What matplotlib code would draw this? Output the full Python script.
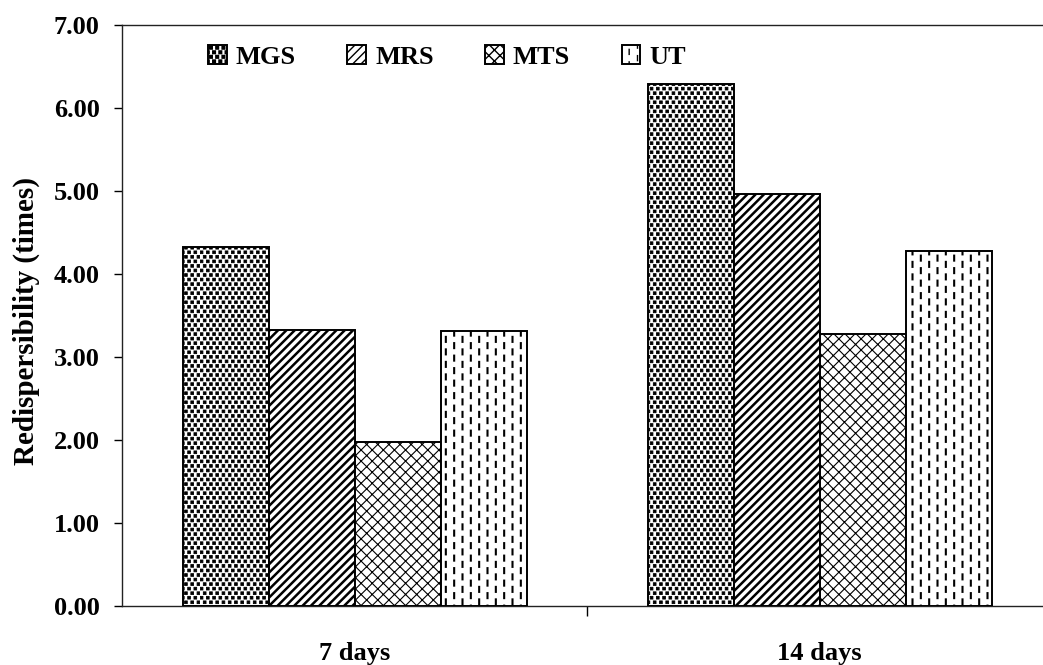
import warnings
warnings.filterwarnings('ignore')
import numpy as np
import matplotlib
matplotlib.use('Agg')
import matplotlib.pyplot as plt
from matplotlib import hatch as mhatch
from matplotlib.path import Path

# ---------------- data ----------------
categories = ['7 days', '14 days']
series_names = ['MGS', 'MRS', 'MTS', 'UT']
mgs_values = [4.33, 6.29]
mrs_values = [3.32, 4.96]
mts_values = [1.98, 3.28]
ut_values = [3.31, 4.28]
y_ticks = [0, 1, 2, 3, 4, 5, 6, 7]
y_tick_labels = ['0.00', '1.00', '2.00', '3.00', '4.00', '5.00', '6.00', '7.00']


# ---------------- custom hatch patterns ----------------
class SquareDotsHatch(mhatch.HatchPatternBase):
    """Staggered small filled squares (char 'Q')."""
    def __init__(self, hatch, density):
        centers = []
        if 'Q' in hatch:
            ncol, nrow = 16, 22
            for r in range(nrow):
                for c in range(ncol):
                    centers.append(((c + 0.25 + 0.5 * (r % 2)) / ncol,
                                    (r + 0.5) / nrow))
        self.centers = centers
        self.half = 0.0135
        self.num_vertices = len(centers) * 5

    def set_vertices_and_codes(self, vertices, codes):
        h = self.half
        for k, (x, y) in enumerate(self.centers):
            i = 5 * k
            vertices[i:i + 5] = [(x - h, y - h), (x + h, y - h), (x + h, y + h),
                                 (x - h, y + h), (x - h, y - h)]
            codes[i] = Path.MOVETO
            codes[i + 1:i + 4] = Path.LINETO
            codes[i + 4] = Path.CLOSEPOLY


class VDashHatch(mhatch.HatchPatternBase):
    """Staggered short vertical dashes (char 'V')."""
    def __init__(self, hatch, density):
        segs = []
        if 'V' in hatch:
            ncol, nrow = 12, 8
            L = 0.05
            for c in range(ncol):
                x = (c + 0.5) / ncol
                for r in range(nrow):
                    y0 = (r + 0.5 * (c % 2)) / nrow + 0.15 / nrow
                    y1 = y0 + L
                    if y1 <= 1.0:
                        segs.append((x, y0, y1))
                    else:
                        segs.append((x, y0, 1.0))
                        segs.append((x, 0.0, y1 - 1.0))
        self.segs = segs
        self.num_vertices = len(segs) * 2

    def set_vertices_and_codes(self, vertices, codes):
        for k, (x, y0, y1) in enumerate(self.segs):
            vertices[2 * k] = (x, y0)
            vertices[2 * k + 1] = (x, y1)
            codes[2 * k] = Path.MOVETO
            codes[2 * k + 1] = Path.LINETO


class DiagStripeHatch(mhatch.HatchPatternBase):
    """Diagonal stripes with custom spacing (char 'W')."""
    def __init__(self, hatch, density):
        self.cs = []
        if 'W' in hatch:
            n = 12
            self.cs = [k / n for k in range(-n, n + 1)]
        self.num_vertices = len(self.cs) * 2

    def set_vertices_and_codes(self, vertices, codes):
        for k, c in enumerate(self.cs):
            vertices[2 * k] = (c, 0.0)
            vertices[2 * k + 1] = (c + 1.0, 1.0)
            codes[2 * k] = Path.MOVETO
            codes[2 * k + 1] = Path.LINETO


mhatch._hatch_types.extend([SquareDotsHatch, VDashHatch, DiagStripeHatch])

# ---------------- styles ----------------
FONT = 'Liberation Serif'
hatches = ['Q', 'W', 'xxx', 'V']
hatch_lws = [0.6, 1.8, 0.8, 1.5]
series_values = [mgs_values, mrs_values, mts_values, ut_values]

fig = plt.figure(figsize=(10.43, 6.65), dpi=100)
ax = fig.add_axes([0.117, 0.0887, 0.892, 0.8737])

x = np.arange(len(categories))
width = 0.185
offsets = [-1.5, -0.5, 0.5, 1.5]
handles = []
for vals, off, h, hlw, name in zip(series_values, offsets, hatches, hatch_lws, series_names):
    bars = ax.bar(x + off * width, vals, width, facecolor='white', edgecolor='black',
                  linewidth=1.4, hatch=h, label=name, zorder=3)
    for p in bars:
        if hasattr(p, 'set_hatch_linewidth'):
            p.set_hatch_linewidth(hlw)
    handles.append(bars)

ax.set_xlim(-0.5, 1.5)
ax.set_ylim(0, 7)

for side in ['left', 'top', 'bottom', 'right']:
    ax.spines[side].set_linewidth(1.0)
    ax.spines[side].set_color('#222222')

ax.set_yticks(y_ticks)
ax.set_yticklabels(y_tick_labels, fontsize=19, fontweight='bold', family=FONT)
ax.tick_params(axis='y', direction='out', length=6, width=1.0, pad=10)

ax.set_xticks([0.5])
ax.set_xticklabels([''])
ax.tick_params(axis='x', which='major', direction='out', length=7, width=1.0)
ax.set_xticks(x, minor=True)
ax.set_xticklabels(categories, minor=True, fontsize=19, fontweight='bold', family=FONT)
ax.tick_params(axis='x', which='minor', length=0, pad=26)

ax.set_ylabel('Redispersibility (times)', fontsize=21, fontweight='bold', family=FONT)
ax.yaxis.set_label_coords(-0.088, 0.49)

leg = ax.legend(handles, series_names, ncol=4, loc='center left',
                bbox_to_anchor=(0.0925, 0.945), frameon=False,
                handlelength=0.7, handleheight=0.7, handletextpad=0.35,
                columnspacing=1.95, borderpad=0, borderaxespad=0,
                prop={'family': FONT, 'weight': 'bold', 'size': 19})

fig.savefig('out.png', dpi=100)
